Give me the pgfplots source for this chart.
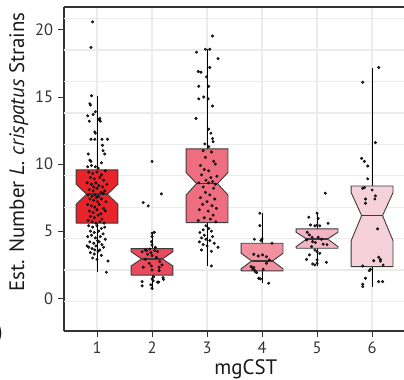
\documentclass[border=0pt]{standalone}
\usepackage{pgfplots}
\pgfplotsset{compat=1.18}
\usepackage{fontspec}
\setmainfont{PT Sans}
\usetikzlibrary{calc}
\definecolor{c1}{HTML}{E8232A}
\definecolor{c2}{HTML}{E94B5E}
\definecolor{c3}{HTML}{EE6E80}
\definecolor{c4}{HTML}{F1919F}
\definecolor{c5}{HTML}{F3B4C6}
\definecolor{c6}{HTML}{F6D1DB}
\definecolor{gridc}{HTML}{EBEBEB}
\definecolor{boxline}{HTML}{3A3A3A}
\definecolor{axc}{HTML}{333333}
\begin{document}
\begin{tikzpicture}
\begin{axis}[
  scale only axis, width=340bp, height=324bp,
  xmin=0.4, xmax=6.58, ymin=-2.44, ymax=21.71,
  axis x line*=box, axis y line*=left,
  axis line style={draw=axc, line width=1.2bp},
  xtick={1,2,3,4,5,6}, ytick={0,5,10,15,20},
  xtick pos=left, ytick pos=left,
  tick align=outside, major tick length=6bp,
  tick style={draw=axc, line width=1bp},
  xmajorgrids=true, ymajorgrids=false,
  extra y ticks={-0.25,2.095,4.44,6.785,9.13,11.475,13.82,16.165,18.51,20.855},
  extra y tick labels={},
  extra y tick style={grid=major, major tick length=0pt},
  major grid style={draw=gridc, line width=1.4bp},
  ticklabel style={font=\fontsize{16.5}{16.5}\selectfont, text=axc},
  yticklabel style={xshift=-1.5bp},
  xticklabel style={yshift=-1bp},
  /pgf/number format/assume math mode=true,
  clip=false,
]
\coordinate (bl) at (rel axis cs:0,0);
\coordinate (tr) at (rel axis cs:1,1);
% whiskers
\addplot[black, line width=0.9bp] coordinates {(1,1.94) (1,15.1)};
\addplot[black, line width=0.9bp] coordinates {(2,0.62) (2,4.92)};
\addplot[black, line width=0.9bp] coordinates {(3,2.41) (3,18.56)};
\addplot[black, line width=0.9bp] coordinates {(4,1.12) (4,6.34)};
\addplot[black, line width=0.9bp] coordinates {(5,2.41) (5,6.34)};
\addplot[black, line width=0.9bp] coordinates {(6,0.87) (6,17.2)};
% notched boxes
\addplot[draw=boxline, line width=0.9bp, fill=c1] coordinates {(0.62,5.6) (0.62,7.0) (0.81,7.75) (0.62,8.5) (0.62,9.57) (1.38,9.57) (1.38,8.5) (1.19,7.75) (1.38,7.0) (1.38,5.6) (0.62,5.6)};
\addplot[draw=boxline, line width=0.9bp, fill=c2] coordinates {(1.62,1.72) (1.62,2.41) (1.81,2.93) (1.62,3.47) (1.62,3.7) (2.38,3.7) (2.38,3.47) (2.19,2.93) (2.38,2.41) (2.38,1.72) (1.62,1.72)};
\addplot[draw=boxline, line width=0.9bp, fill=c3] coordinates {(2.62,5.64) (2.62,7.7) (2.81,8.55) (2.62,9.37) (2.62,11.13) (3.38,11.13) (3.38,9.37) (3.19,8.55) (3.38,7.7) (3.38,5.64) (2.62,5.64)};
\addplot[draw=boxline, line width=0.9bp, fill=c4] coordinates {(3.62,2.04) (3.62,2.2) (3.81,2.78) (3.62,3.35) (3.62,4.1) (4.38,4.1) (4.38,3.35) (4.19,2.78) (4.38,2.2) (4.38,2.04) (3.62,2.04)};
\addplot[draw=boxline, line width=0.9bp, fill=c5] coordinates {(4.62,3.73) (4.62,3.85) (4.81,4.42) (4.62,4.92) (4.62,5.17) (5.38,5.17) (5.38,4.92) (5.19,4.42) (5.38,3.85) (5.38,3.73) (4.62,3.73)};
\addplot[draw=boxline, line width=0.9bp, fill=c6] coordinates {(5.62,2.36) (5.62,4.29) (5.81,6.16) (5.62,7.87) (5.62,8.37) (6.38,8.37) (6.38,7.87) (6.19,6.16) (6.38,4.29) (6.38,2.36) (5.62,2.36)};
% medians
\addplot[boxline, line width=1.6bp] coordinates {(0.81,7.75) (1.19,7.75)};
\addplot[boxline, line width=1.6bp] coordinates {(1.81,2.93) (2.19,2.93)};
\addplot[boxline, line width=1.6bp] coordinates {(2.81,8.55) (3.19,8.55)};
\addplot[boxline, line width=1.6bp] coordinates {(3.81,2.78) (4.19,2.78)};
\addplot[boxline, line width=1.6bp] coordinates {(4.81,4.42) (5.19,4.42)};
\addplot[boxline, line width=1.6bp] coordinates {(5.81,6.16) (6.19,6.16)};
% points
\addplot[only marks, mark=*, mark size=1.3bp, mark options={draw=none, fill=black!82}] table {
x y
0.92 20.6
0.89 18.7
0.90 15.1
0.87 14.5
0.88 14.4
0.83 13.6
0.86 13.2
0.93 13.7
0.97 13.9
1.04 13.3
1.06 13.2
1.05 13.4
0.96 12.4
0.97 12.3
0.89 11.85
0.96 11.85
1.09 11.85
1.19 11.85
1.10 11.4
0.84 10.75
1.14 10.75
1.11 11.0
0.87 10.3
0.89 10.2
0.83 9.8
0.97 9.8
0.90 9.9
1.08 10.1
1.02 9.7
0.85 9.4
0.92 9.3
1.00 9.4
1.08 9.2
1.15 9.5
0.88 9.0
0.95 8.9
1.05 9.0
1.12 8.8
0.82 8.6
0.90 8.5
0.98 8.6
1.03 8.4
1.10 8.3
1.18 8.5
0.86 8.1
0.93 8.0
1.00 8.2
1.07 7.9
1.14 8.0
0.84 7.7
0.91 7.6
0.97 7.7
1.03 7.6
1.11 7.8
0.87 7.4
0.94 7.3
1.01 7.2
1.08 7.4
1.16 7.2
0.83 7.0
0.90 6.9
0.96 6.8
1.04 7.0
1.12 6.7
0.86 6.5
0.93 6.4
1.00 6.6
1.07 6.3
1.15 6.5
0.88 6.1
0.95 6.0
1.02 6.2
1.09 5.9
0.84 5.8
0.91 5.7
0.98 5.6
1.05 5.7
1.13 5.6
0.99 7.5
0.94 8.3
0.85 5.4
0.92 5.3
1.00 5.4
1.08 5.2
1.14 5.3
0.88 5.0
0.95 4.9
1.03 5.0
1.11 4.8
0.83 4.6
0.90 4.7
0.97 4.5
1.06 4.6
1.15 4.4
0.87 4.2
0.94 4.1
1.01 4.3
1.09 4.0
0.82 3.9
0.85 3.8
0.91 3.7
0.98 3.9
1.05 3.6
1.12 3.8
0.88 3.4
0.95 3.3
1.02 3.5
1.08 3.2
0.92 3.0
1.00 2.9
1.20 2.78
1.17 1.94
0.96 3.6
1.04 4.2
2.00 10.2
2.17 7.78
1.84 7.13
1.93 6.88
2.00 4.85
2.04 4.92
2.00 4.60
1.99 4.22
2.00 3.97
1.82 3.47
1.90 3.55
1.96 3.67
1.98 3.40
2.06 3.80
2.10 3.48
1.92 3.28
2.00 3.18
2.14 2.73
2.18 2.48
1.84 2.31
1.99 2.41
2.00 2.11
2.13 2.31
2.13 2.06
1.88 2.90
2.08 3.05
1.95 2.60
1.82 1.24
1.82 0.92
2.00 1.44
2.02 1.31
2.00 0.75
2.10 1.20
2.12 1.20
2.20 1.54
2.21 1.40
1.98 1.00
2.03 1.60
1.88 3.60
2.05 3.55
3.10 19.55
2.97 18.56
3.05 18.56
2.81 18.34
3.20 17.86
3.05 17.2
2.84 16.9
2.89 16.85
2.99 16.5
2.85 15.8
3.03 15.8
2.85 14.86
2.94 15.0
3.02 14.86
3.10 14.33
2.80 13.4
3.03 12.6
3.07 12.3
3.10 11.9
3.11 11.67
3.03 11.3
2.96 11.5
2.93 11.0
3.08 10.9
2.97 10.5
3.12 10.2
3.15 10.0
2.88 9.9
2.95 9.6
3.03 9.5
2.90 9.2
3.18 9.1
3.07 9.0
2.98 8.8
3.10 8.7
2.85 8.6
3.03 8.6
3.15 8.5
2.93 8.3
3.12 8.2
2.97 7.9
3.05 7.7
2.88 7.5
3.14 7.4
3.00 7.2
2.92 7.0
3.09 6.9
3.17 6.7
2.86 6.6
3.02 6.5
3.11 6.2
2.95 6.0
3.06 5.9
2.84 5.8
3.16 5.7
2.98 5.4
3.03 5.2
2.93 5.1
3.08 5.0
2.87 4.9
2.95 4.7
3.10 4.6
2.90 4.5
2.98 4.4
3.05 4.3
2.86 4.2
3.13 4.1
2.93 4.0
3.00 3.9
3.20 3.8
2.90 3.6
3.08 3.5
3.08 2.41
3.96 6.34
3.96 5.41
4.00 4.42
3.86 4.40
3.98 4.30
4.18 4.10
3.85 3.28
3.93 3.15
4.01 3.23
4.08 3.10
4.13 2.86
4.08 2.61
3.80 2.36
3.83 2.18
3.87 2.06
3.90 1.91
3.85 2.30
3.88 1.98
3.94 1.49
3.97 1.44
4.12 1.12
4.02 2.16
5.00 6.34
4.85 6.04
5.02 5.96
5.20 5.59
4.88 5.46
4.96 5.40
5.00 5.46
5.05 5.40
4.82 4.92
4.86 4.72
4.91 4.55
5.02 4.55
5.08 4.40
4.81 4.35
4.92 4.22
4.97 4.15
5.11 4.03
5.18 4.00
4.90 3.85
4.96 3.60
5.00 3.47
5.05 3.35
4.86 3.23
4.81 2.90
5.00 2.86
4.96 2.48
4.92 2.56
5.17 2.68
5.00 2.61
5.15 7.83
6.12 17.2
5.83 16.1
6.06 11.6
5.81 10.43
5.86 10.2
5.92 9.86
5.92 8.9
5.83 8.2
5.86 8.25
6.00 8.07
6.06 7.63
5.88 7.4
6.05 7.4
5.88 7.08
6.10 5.17
6.12 3.06
6.15 2.9
6.03 2.8
6.15 2.77
6.20 2.48
5.83 2.41
5.97 2.16
5.95 2.06
5.88 1.49
5.83 1.04
5.83 0.87
6.12 1.24
6.19 1.24
};
\end{axis}
\node[rotate=90, anchor=base, inner sep=0pt, font=\fontsize{21}{21}\selectfont, text=black!90] at ($(bl)!0.552!(bl|-tr)+(-40bp,0)$) {Est. Number \textit{L. crispatus} Strains};
\node[anchor=base, inner sep=0pt, font=\fontsize{21}{21}\selectfont, text=black!90] at ($(bl)!0.535!(tr|-bl)+(0,-43bp)$) {mgCST};
\node[anchor=east, inner sep=0pt, font=\fontsize{24}{24}\selectfont, text=black!90] at ($(bl)+(-61bp,-3bp)$) {)};
\pgfresetboundingbox
\path[use as bounding box] ($(bl)+(-64bp,-49bp)$) rectangle ($(tr)+(0bp,7bp)$);
\end{tikzpicture}
\end{document}
